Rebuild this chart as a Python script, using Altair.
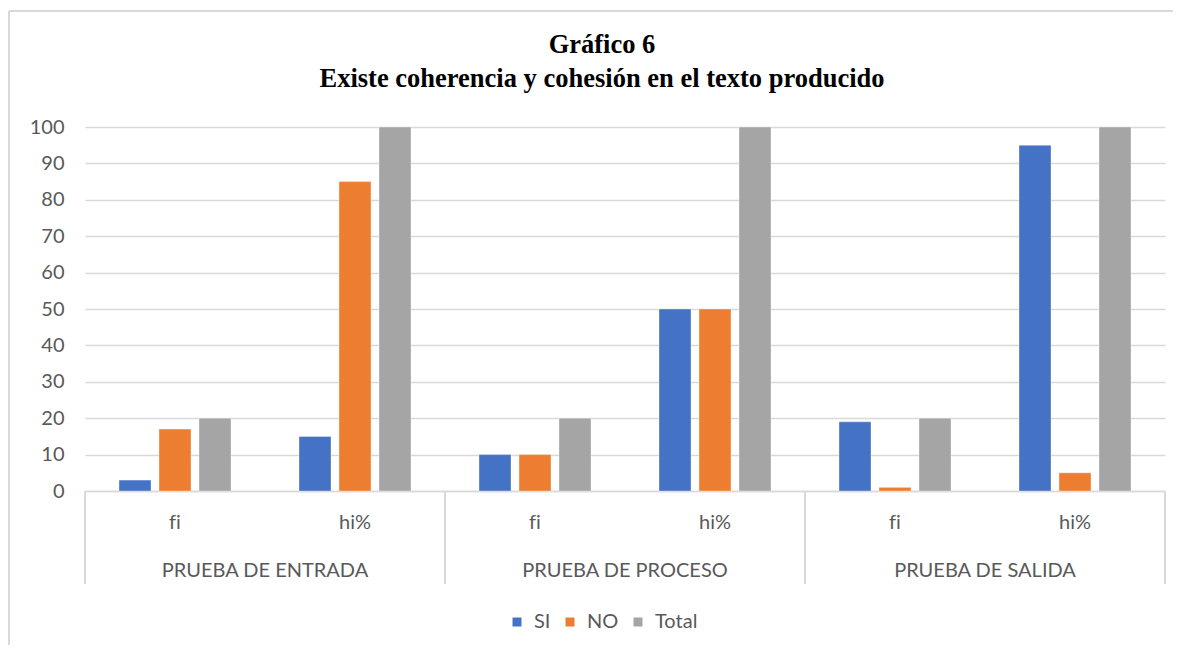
import altair as alt
import pandas as pd

groups = ["PRUEBA DE ENTRADA", "PRUEBA DE PROCESO", "PRUEBA DE SALIDA"]
subs = ["fi", "hi%"]
series = ["SI", "NO", "Total"]
si_vals = [3, 15, 10, 50, 19, 95]
no_vals = [17, 85, 10, 50, 1, 5]
total_vals = [20, 100, 20, 100, 20, 100]
colors = ["#4472C4", "#ED7D31", "#A5A5A5"]

W, H = 1080, 364
FONT = "Lato"
GRAY_TXT = "#595959"
LINE = "#D9D9D9"

cats = [f"{g}|{s}" for g in groups for s in subs]
rows = []
for s_name, vals in zip(series, [si_vals, no_vals, total_vals]):
    for c, v in zip(cats, vals):
        rows.append({"cat": c, "series": s_name, "value": v})
df = pd.DataFrame(rows)

xscale = alt.Scale(domain=cats, paddingInner=0, paddingOuter=0)

bars = alt.Chart(df).mark_bar(stroke="white", strokeWidth=0.6, strokeOpacity=0.6).encode(
    x=alt.X("cat:N", scale=xscale, title=None,
            axis=alt.Axis(labelExpr="replace(split(datum.label, '|')[1], 'fi', 'f\u200ci')",
                          labelAngle=0,
                          ticks=False, domain=True, domainColor=LINE, domainWidth=1.5,
                          labelFont=FONT, labelFontSize=20, labelColor=GRAY_TXT,
                          labelPadding=21, grid=False)),
    xOffset=alt.XOffset("series:N", sort=series,
                        scale=alt.Scale(paddingInner=0.2, paddingOuter=0.85)),
    y=alt.Y("value:Q", scale=alt.Scale(domain=[0, 100], nice=False), title=None,
            axis=alt.Axis(values=list(range(0, 101, 10)), domain=False, ticks=False,
                          labelFont=FONT, labelFontSize=20, labelColor=GRAY_TXT,
                          labelPadding=21, gridColor=LINE, gridWidth=1.5)),
    color=alt.Color("series:N", sort=series,
                    scale=alt.Scale(domain=series, range=colors),
                    legend=alt.Legend(title=None, orient="none", direction="horizontal",
                                      legendX=422, legendY=485, symbolType="square",
                                      symbolSize=81, symbolStrokeWidth=0,
                                      labelFont=FONT, labelFontSize=20,
                                      labelColor=GRAY_TXT, labelOffset=7,
                                      columnPadding=9)),
)

gdf = pd.DataFrame({"group": groups,
                    "left": [f"{g}|fi" for g in groups],
                    "mid": [f"{g}|hi%" for g in groups],
                    "right": [f"{g}|hi%" for g in groups]})

seps = alt.Chart(gdf).mark_rule(color=LINE, strokeWidth=2).encode(
    x=alt.X("left:N", scale=xscale, bandPosition=0),
    y=alt.value(H), y2=alt.value(H + 93))
seps_end = alt.Chart(gdf.tail(1)).mark_rule(color=LINE, strokeWidth=2).encode(
    x=alt.X("right:N", scale=xscale, bandPosition=1),
    y=alt.value(H), y2=alt.value(H + 93))
glabels = alt.Chart(gdf).mark_text(font=FONT, fontSize=20, color=GRAY_TXT,
                                   baseline="middle").encode(
    x=alt.X("mid:N", scale=xscale, bandPosition=0),
    y=alt.value(H + 80),
    text="group:N")

frame_top = alt.Chart(gdf.head(1)).mark_rule(color=LINE, strokeWidth=2).encode(
    x=alt.value(-76), x2=alt.value(W + 20), y=alt.value(-116))
frame_left = alt.Chart(gdf.head(1)).mark_rule(color=LINE, strokeWidth=2).encode(
    x=alt.value(-76), y=alt.value(-116), y2=alt.value(H + 160))

chart = alt.layer(bars, seps, seps_end, glabels, frame_top, frame_left).properties(
    width=W, height=H,
    title=alt.TitleParams(text=["Gráfico 6", "Existe coherencia y cohesión en el texto producido"],
                          font="Liberation Serif", fontSize=26.5, fontWeight="bold",
                          color="black", anchor="middle", dx=-23, offset=-82,
                          lineHeight=34),
    autosize=alt.AutoSizeParams(type="none"),
    padding={"left": 77, "top": 119, "right": 8, "bottom": 154},
).configure_view(stroke=None).configure_axis(labelFlush=False)

chart.save("out.html", embed_options={"renderer": "svg", "actions": False})
